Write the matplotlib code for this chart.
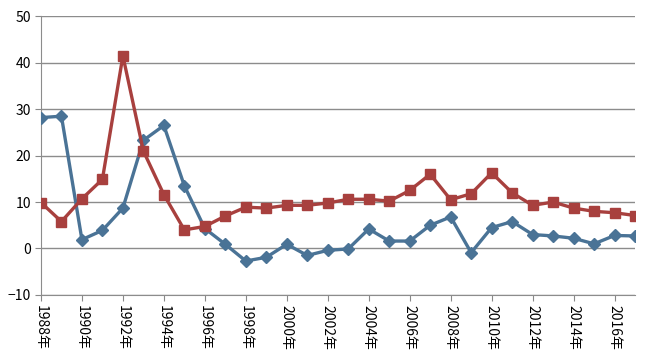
import numpy as np
import matplotlib
matplotlib.use("Agg")
import matplotlib.pyplot as plt

plt.rcParams['font.family'] = ['Noto Sans CJK SC', 'DejaVu Sans']

years = list(range(1988, 2018))
blue_vals = [28.2, 28.5, 1.9, 3.9, 8.7, 23.3, 26.5, 13.5, 4.3, 0.9,
             -2.7, -1.9, 0.9, -1.5, -0.4, -0.1, 4.2, 1.6, 1.6, 5.0,
             6.8, -0.9, 4.5, 5.8, 3.0, 2.7, 2.2, 1.0, 2.8, 2.7]
red_vals = [9.9, 5.8, 10.7, 14.9, 41.5, 21.0, 11.6, 4.0, 4.75, 7.0,
            8.9, 8.7, 9.3, 9.3, 9.8, 10.6, 10.6, 10.2, 12.5, 16.0,
            10.5, 11.8, 16.3, 12.0, 9.3, 10.0, 8.7, 8.0, 7.7, 7.1]
tick_years = years[::2]
tick_labels = [f"{y}年" for y in tick_years]

fig = plt.figure(figsize=(6.5, 3.57), dpi=100)
ax = fig.add_axes([0.063, 0.174, 0.914, 0.780])

x = np.arange(len(years))
ax.plot(x, blue_vals, color='#4a7396', lw=2.4, marker='D', ms=6,
        markeredgecolor='#4a7396', zorder=3)
ax.plot(x, red_vals, color='#a8403e', lw=2.4, marker='s', ms=7,
        markeredgecolor='#a8403e', zorder=3)

ax.set_xlim(0, len(years) - 1)
ax.set_ylim(-10, 50)
ax.set_yticks(range(-10, 51, 10))
ax.set_xticks(x[::2])
ax.set_xticklabels(tick_labels, rotation=-90, fontsize=10)
ax.tick_params(axis='y', labelsize=10, length=4, color='#888888', pad=3)
ax.tick_params(axis='x', length=4, color='#888888', pad=3)

ax.yaxis.grid(True, color='#8c8c8c', lw=1)
ax.set_axisbelow(True)
for side in ['top', 'right']:
    ax.spines[side].set_visible(False)
ax.spines['left'].set_color('#8c8c8c')
ax.spines['bottom'].set_color('#8c8c8c')

fig.savefig("out.png", dpi=100)
